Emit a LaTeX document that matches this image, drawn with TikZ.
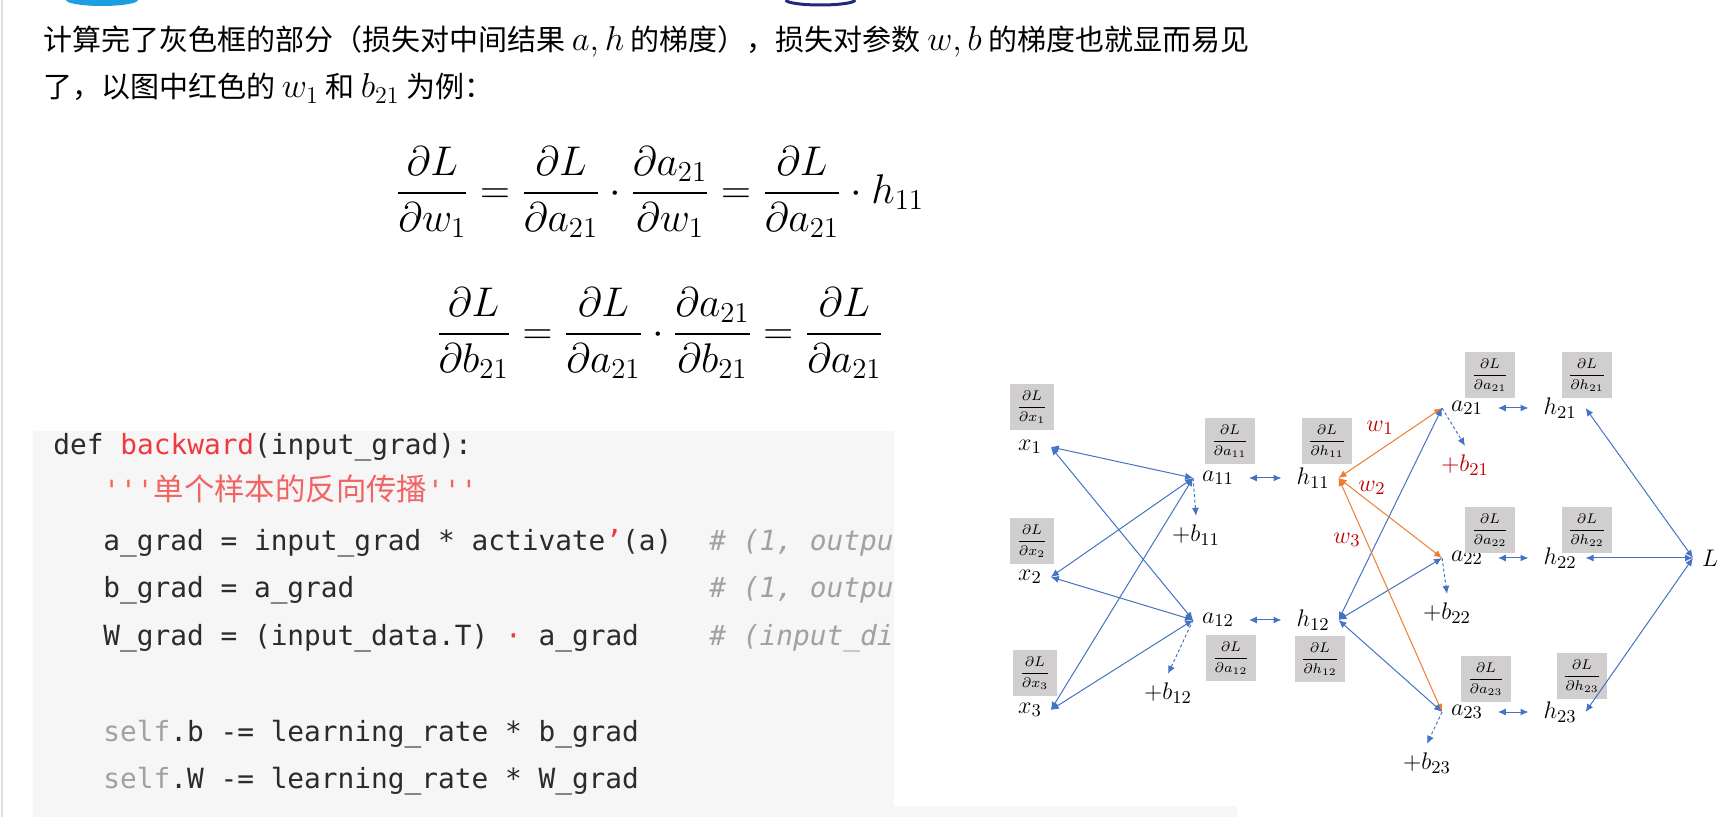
\documentclass[tikz,border=0pt]{standalone}
\usepackage{fontspec}
\usepackage{amsmath}
\newfontfamily\cjk{Noto Sans CJK SC}
\setmonofont{DejaVu Sans Mono}
\usetikzlibrary{arrows.meta}
\definecolor{netblue}{HTML}{4472C4}
\definecolor{wgtorange}{HTML}{ED7D31}
\definecolor{wgtred}{HTML}{C00000}
\definecolor{boxgray}{HTML}{D0CECE}
\definecolor{codebg}{HTML}{F6F6F6}
\definecolor{codetext}{HTML}{2B2B2B}
\definecolor{codered}{HTML}{F0383E}
\definecolor{docred}{HTML}{F26464}
\definecolor{codegray}{HTML}{A0A1A7}
\definecolor{logoblue}{HTML}{1A9FE0}
\definecolor{logonavy}{HTML}{1F2A7A}
\newcommand{\km}[1]{{\fontsize{17.6}{20}\selectfont$#1$}}
\tikzset{
  varlbl/.style={font=\fontsize{12.5}{14}\selectfont, inner sep=4.3pt},
  gradbox/.style={fill=boxgray, minimum width=25pt, minimum height=23pt, inner sep=1pt, font=\fontsize{7.3}{8}\selectfont},
  conn/.style={draw=netblue, line width=0.5pt, {Latex[length=4pt,width=3.5pt]}-{Latex[length=4pt,width=3.5pt]}},
  wconn/.style={conn, draw=wgtorange},
  bias/.style={draw=netblue, line width=0.5pt, dash pattern=on 1.5pt off 1.2pt, -{Latex[length=4pt,width=3.5pt]}},
  textline/.style={anchor=base west, inner sep=0pt, font=\cjk\fontsize{14.5}{17}\selectfont},
  eqline/.style={font=\fontsize{20}{22}\selectfont},
  codeline/.style={anchor=base west, inner sep=0pt, font=\ttfamily\fontsize{13.9}{16}\selectfont, text=codetext},
  comment/.style={codeline, font=\ttfamily\itshape\fontsize{13.9}{16}\selectfont, text=codegray}
}

\begin{document}
\begin{tikzpicture}[x=0.5pt, y=-0.5pt]
	\useasboundingbox (0,0) rectangle (1735,817);

	% Page
	\draw[gray!25, line width=1pt] (2,0) -- (2,817);
	\fill[logoblue] (66,0) arc[start angle=180, end angle=0, x radius=36, y radius=6] -- cycle;
	\draw[logonavy, line width=1.5pt] (786,0) arc[start angle=180, end angle=0, x radius=34.5, y radius=5];

	% Text
	\node[textline] (line1) at (43,51) {计算完了灰色框的部分（损失对中间结果 \km{a, h} 的梯度），损失对参数 \km{w, b} 的梯度也就显而易见};
	\node[textline] (line2) at (43,98) {了，以图中红色的 \km{w_1} 和 \km{b_{21}} 为例：};

	\node[eqline] (eqw) at (660,192)
		{$\displaystyle \frac{\partial L}{\partial w_1} = \frac{\partial L}{\partial a_{21}} \cdot \frac{\partial a_{21}}{\partial w_1} = \frac{\partial L}{\partial a_{21}} \cdot h_{11}$};
	\node[eqline] (eqb) at (660,333)
		{$\displaystyle \frac{\partial L}{\partial b_{21}} = \frac{\partial L}{\partial a_{21}} \cdot \frac{\partial a_{21}}{\partial b_{21}} = \frac{\partial L}{\partial a_{21}}$};

	% Code
	\fill[codebg] (33,431) -- (894,431) -- (894,806) -- (1237,806) -- (1237,817) -- (33,817) -- cycle;
	\begin{scope}
		\clip (33,431) rectangle (894,817);
		\node[codeline] (def) at (53,455) {def {\color{codered}backward}(input\_grad):};
		\node[codeline] (doc) at (103,501) {\color{docred}'''{\cjk\fontsize{15.2}{16}\selectfont 单个样本的反向传播}'''};
		\node[codeline] (agrad) at (103,551) {a\_grad = input\_grad * activate{\color{codered}’}(a)};
		\node[codeline] (bgrad) at (103,598) {b\_grad = a\_grad};
		\node[codeline] (wgrad) at (103,646) {W\_grad = (input\_data.T) {\color{codered}·} a\_grad};
		\node[codeline] (selfb) at (103,741) {{\color{codegray}self}.b -= learning\_rate * b\_grad};
		\node[codeline] (selfw) at (103,788) {{\color{codegray}self}.W -= learning\_rate * W\_grad};
		\node[comment] (ca) at (709,551) {\# (1, outpu};
		\node[comment] (cb) at (709,598) {\# (1, outpu};
		\node[comment] (cw) at (709,646) {\# (input\_di};
	\end{scope}

	% Nodes
	\node[varlbl] (x1) at (1030,447) {$x_1$};
	\node[varlbl] (x2) at (1030,577) {$x_2$};
	\node[varlbl] (x3) at (1030,710) {$x_3$};
	\node[varlbl] (a11) at (1218,478) {$a_{11}$};
	\node[varlbl] (a12) at (1218,620) {$a_{12}$};
	\node[varlbl] (h11) at (1313,478) {$h_{11}$};
	\node[varlbl] (h12) at (1313,620) {$h_{12}$};
	\node[varlbl] (a21) at (1467,408) {$a_{21}$};
	\node[varlbl] (a22) at (1467,558) {$a_{22}$};
	\node[varlbl] (a23) at (1467,712) {$a_{23}$};
	\node[varlbl] (h21) at (1560,408) {$h_{21}$};
	\node[varlbl] (h22) at (1560,558) {$h_{22}$};
	\node[varlbl] (h23) at (1560,712) {$h_{23}$};
	\node[varlbl] (L) at (1710,558) {$L$};

	\node[varlbl] (b11) at (1196,535) {$+b_{11}$};
	\node[varlbl] (b12) at (1168,693) {$+b_{12}$};
	\node[varlbl, text=wgtred] (b21) at (1465,465) {$+b_{21}$};
	\node[varlbl] (b22) at (1447,613) {$+b_{22}$};
	\node[varlbl] (b23) at (1427,763) {$+b_{23}$};

	\node[varlbl, text=wgtred] (w1) at (1380,428) {$w_1$};
	\node[varlbl, text=wgtred] (w2) at (1372,488) {$w_2$};
	\node[varlbl, text=wgtred] (w3) at (1347,540) {$w_3$};

	% Gradient boxes
	\node[gradbox, minimum width=22pt] (gx1) at (1032,407) {$\dfrac{\partial L}{\partial x_1}$};
	\node[gradbox, minimum width=22pt] (gx2) at (1032,541) {$\dfrac{\partial L}{\partial x_2}$};
	\node[gradbox, minimum width=22pt] (gx3) at (1035,673) {$\dfrac{\partial L}{\partial x_3}$};
	\node[gradbox] (ga11) at (1230,441) {$\dfrac{\partial L}{\partial a_{11}}$};
	\node[gradbox] (ga12) at (1231,658) {$\dfrac{\partial L}{\partial a_{12}}$};
	\node[gradbox] (gh11) at (1327,441) {$\dfrac{\partial L}{\partial h_{11}}$};
	\node[gradbox] (gh12) at (1320,659) {$\dfrac{\partial L}{\partial h_{12}}$};
	\node[gradbox] (ga21) at (1490,375) {$\dfrac{\partial L}{\partial a_{21}}$};
	\node[gradbox] (ga22) at (1490,530) {$\dfrac{\partial L}{\partial a_{22}}$};
	\node[gradbox] (ga23) at (1486,679) {$\dfrac{\partial L}{\partial a_{23}}$};
	\node[gradbox] (gh21) at (1587,375) {$\dfrac{\partial L}{\partial h_{21}}$};
	\node[gradbox] (gh22) at (1587,530) {$\dfrac{\partial L}{\partial h_{22}}$};
	\node[gradbox] (gh23) at (1582,676) {$\dfrac{\partial L}{\partial h_{23}}$};

	% Arrow
	\foreach \i in {1,2,3} {
		\draw[conn] (x\i.east) -- (a11.west);
		\draw[conn] (x\i.east) -- (a12.west);
		\draw[wconn] (h11.east) -- (a2\i.west);
		\draw[conn] (h12.east) -- (a2\i.west);
		\draw[conn, shorten <=3pt, shorten >=3pt] (a2\i.east) -- (h2\i.west);
		\draw[conn] (h2\i.east) -- (L.west);
		\draw[bias] (a2\i.west) -- (b2\i.north);
	}
	\draw[conn, shorten <=3pt, shorten >=3pt] (a11.east) -- (h11.west);
	\draw[conn, shorten <=3pt, shorten >=3pt] (a12.east) -- (h12.west);
	\draw[bias] (a11.west) -- (b11.north);
	\draw[bias] (a12.west) -- (b12.north);
\end{tikzpicture}
\end{document}
